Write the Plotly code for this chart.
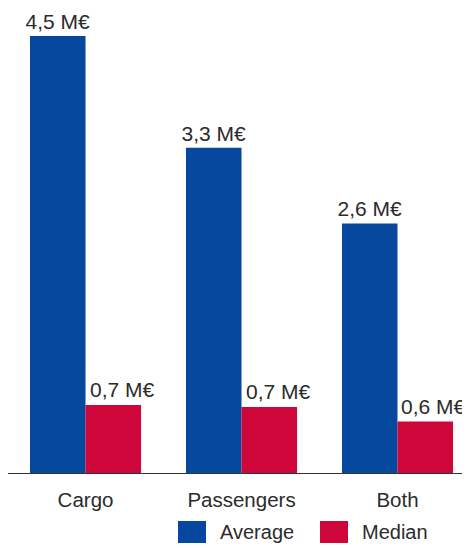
import plotly.graph_objects as go

categories = ["Cargo", "Passengers", "Both"]
average = [4.5, 3.35, 2.57]
median = [0.70, 0.68, 0.53]
average_labels = ["4,5 M€", "3,3 M€", "2,6 M€"]
median_labels = ["0,7 M€", "0,7 M€", "0,6 M€"]

BLUE = "#07489F"
RED = "#CE0639"
TEXT = "#2b2b2b"
FONT = "Liberation Sans, Arial, sans-serif"

fig = go.Figure()
fig.add_trace(
    go.Bar(
        x=categories,
        y=average,
        name="Average",
        marker=dict(color=BLUE, line=dict(width=0)),
        text=average_labels,
        textposition="outside",
        textfont=dict(size=21, color=TEXT, family=FONT),
        cliponaxis=False,
        constraintext="none",
    )
)
fig.add_trace(
    go.Bar(
        x=categories,
        y=median,
        name="Median",
        marker=dict(color=RED, line=dict(width=0)),
    )
)

# page body has an 8px margin, so the figure is 8px smaller each way
# legend drawn by hand so the swatches can be as large as in the original
legend_items = [("Average", BLUE, 170), ("Median", RED, 312)]
shapes = []
annotations = []
for label, color, x0 in legend_items:
    shapes.append(
        dict(type="rect", xref="paper", yref="paper",
             x0=x0 / 460, x1=(x0 + 28) / 460,
             y0=-48 / 437, y1=-70 / 437,
             fillcolor=color, line=dict(width=0))
    )
    annotations.append(
        dict(text=label, xref="paper", yref="paper",
             x=(x0 + 40) / 460, y=-59 / 437,
             xanchor="left", yanchor="middle", showarrow=False,
             font=dict(size=20, color=TEXT, family=FONT))
    )

# median labels sit left-aligned over the red bars, as in the original
for cat, val, lab in zip(categories, median, median_labels):
    annotations.append(
        dict(text=lab, x=cat, y=val, xref="x", yref="y",
             xanchor="left", yanchor="bottom", xshift=2, yshift=2,
             showarrow=False,
             font=dict(size=21, color=TEXT, family=FONT))
    )

fig.update_layout(
    width=462,
    height=540,
    margin=dict(l=0, r=2, t=28, b=75),
    paper_bgcolor="white",
    plot_bgcolor="white",
    barmode="group",
    bargap=0.288,
    bargroupgap=0,
    showlegend=False,
    font=dict(family=FONT, color=TEXT),
    shapes=shapes,
    annotations=annotations,
    xaxis=dict(
        range=[-0.497, 2.452],
        showline=True,
        linecolor="#333333",
        linewidth=1,
        ticks="",
        ticklabelstandoff=8,
        tickfont=dict(size=20.5, color=TEXT, family=FONT),
        showgrid=False,
        zeroline=False,
    ),
    yaxis=dict(
        range=[0, 4.5],
        visible=False,
        showgrid=False,
        zeroline=False,
    ),
)

fig.write_html("out.html")
